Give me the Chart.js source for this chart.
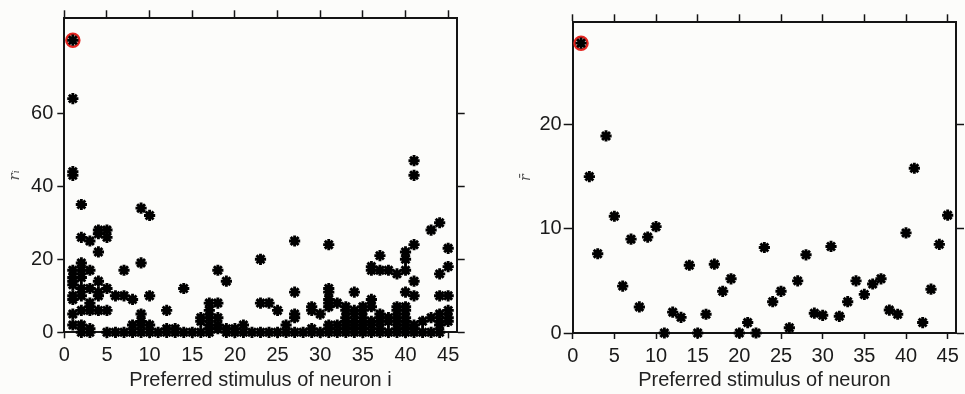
<!DOCTYPE html>
<html>
<head>
<meta charset="utf-8">
<script src="https://cdn.jsdelivr.net/npm/chart.js@4.4.1/dist/chart.umd.min.js"></script>
<style>
html,body{margin:0;padding:0;background:#fcfcfa;}
#wrap{position:relative;width:965px;height:394px;overflow:hidden;background:#fcfcfa;}
canvas{position:absolute;top:0;}
#c1{left:0;}
#c2{left:480px;}
</style>
</head>
<body>
<div id="wrap">
<canvas id="c1" width="480" height="394"></canvas>
<canvas id="c2" width="485" height="394"></canvas>
</div>
<script>
// ---- data ----
const stimuli = [1,2,3,4,5,6,7,8,9,10,11,12,13,14,15,16,17,18,19,20,21,22,23,24,25,26,27,28,29,30,31,32,33,34,35,36,37,38,39,40,41,42,43,44,45];

// single-neuron responses r_i, grouped by preferred stimulus (same order as stimuli)
const neuronRates = [
  [80,64,44,43,17,15,14,13,10,9,5,2],
  [35,26,19,17,15,12,10,6,2,0],
  [25,17,12,8,7,6,1,0],
  [28,27,22,14,11,10,6],
  [28,26,12,6,0],
  [10,0],
  [17,10,0],
  [9,2,0],
  [34,19,5,3,2,0],
  [32,10,2,0],
  [0],
  [6,1,0],
  [1,0],
  [12,0],
  [0],
  [4,3,0],
  [8,6,4,2,1,0],
  [17,8,4,2,1],
  [14,1,0],
  [1,0],
  [2,0],
  [0],
  [20,8,0],
  [8,0],
  [6,0],
  [2,0],
  [25,11,5,4,0],
  [0],
  [7,6,1,0],
  [5,0],
  [24,12,11,9,8,7,2,1,0],
  [8,2,0],
  [7,6,4,3,2,1,0],
  [11,6,5,3,2,1,0],
  [7,6,4,3,2,1,0],
  [18,17,9,7,3,2,0],
  [21,17,5,4,3,1,0],
  [17,4,3,0],
  [16,7,6,4,3,1,0],
  [22,20,17,11,7,6,4,3,2,1,0],
  [47,43,24,14,10,2,1,0],
  [3,0],
  [28,4,0],
  [30,16,10,5,3,2,0],
  [23,18,10,6,4,3]
];

// mean response r-bar per preferred stimulus
const meanRates = [27.8,15.0,7.6,18.9,11.2,4.5,9.0,2.5,9.2,10.2,0,2.0,1.5,6.5,0,1.8,6.6,4.0,5.2,0,1.0,0,8.2,3.0,4.0,0.5,5.0,7.5,1.9,1.7,8.3,1.6,3.0,5.0,3.7,4.7,5.2,2.2,1.8,9.6,15.8,1.0,4.2,8.5,11.3];

const highlightStimulus = 1;
const xTicks = [0,5,10,15,20,25,30,35,40,45];
const leftYTicks = [0,20,40,60];
const rightYTicks = [0,10,20];
const leftXTitle = 'Preferred stimulus of neuron i';
const rightXTitle = 'Preferred stimulus of neuron';
const leftYTitle = 'r\u1D62';
const rightYTitle = 'r\u0304';

// ---- build points ----
const leftPoints = [];
neuronRates.forEach((vals, i) => vals.forEach(v => leftPoints.push({x: stimuli[i], y: v})));
const rightPoints = meanRates.map((v, i) => ({x: stimuli[i], y: v}));
const hIdx = stimuli.indexOf(highlightStimulus);
const leftHighlight = [{x: highlightStimulus, y: Math.max(...neuronRates[hIdx])}];
const rightHighlight = [{x: highlightStimulus, y: meanRates[hIdx]}];

const INK = '#141414';
const tickFont = {family: "'Liberation Sans', Arial, sans-serif", size: 20};

function fixed(size) {
  return function(scale) {
    if (scale.isHorizontal()) scale.height = size; else scale.width = size;
  };
}
function setTicks(arr) {
  return function(scale) { scale.ticks = arr.map(v => ({value: v})); };
}

function makeChart(id, pts, hl, yMax, yTicks, dims, xTitle, yTitle) {
  const axisBase = (min, max, ticks, size, showLabels, tickLen, pad) => ({
    type: 'linear', min: min, max: max,
    afterBuildTicks: setTicks(ticks),
    afterFit: fixed(size),
    border: {display: true, color: INK, width: 2},
    grid: {display: true, drawOnChartArea: false, drawTicks: true, tickLength: tickLen, color: INK, tickWidth: 1.5},
    ticks: {display: showLabels, color: '#1a1a1a', font: tickFont, padding: pad, maxRotation: 0}
  });
  const x = axisBase(0, 46, xTicks, dims.xH, true, 6, 5);
  x.position = 'bottom';
  x.title = {display: true, text: xTitle, color: '#222', font: {family: "'Liberation Sans', Arial, sans-serif", size: 20}, padding: {top: 0, bottom: 2}};
  const x2 = axisBase(0, 46, xTicks, dims.x2H, false, 8, 0);
  x2.position = 'top';
  const y = axisBase(0, yMax, yTicks, dims.yW, true, dims.yTick, dims.yPad);
  y.position = 'left';
  y.title = {display: true, text: yTitle, color: '#555', font: {family: "'DejaVu Serif', 'Liberation Serif', serif", size: dims.yTitleSize, style: 'italic'}, padding: {top: dims.yTitlePad, bottom: 0}};
  const y2 = axisBase(0, yMax, yTicks, dims.y2W, false, 8, 0);
  y2.position = 'right';

  return new Chart(document.getElementById(id), {
    type: 'scatter',
    data: {
      datasets: [
        {data: pts, xAxisID: 'x', yAxisID: 'y', pointStyle: 'star', pointRadius: 5.6, pointBorderWidth: 2.9,
         borderColor: '#000', backgroundColor: '#000', pointHoverRadius: 5.6, clip: false, order: 0},
        {data: hl, xAxisID: 'x', yAxisID: 'y', pointStyle: 'circle', pointRadius: 6.5, pointBorderWidth: 2.5,
         borderColor: '#e3241f', backgroundColor: 'rgba(0,0,0,0)', clip: false, order: 1}
      ]
    },
    options: {
      responsive: false, animation: false, events: [],
      layout: {padding: 0},
      plugins: {legend: {display: false}, tooltip: {enabled: false}},
      scales: {x: x, x2: x2, y: y, y2: y2}
    }
  });
}

makeChart('c1', leftPoints, leftHighlight, 86, leftYTicks,
  {yW: 64.3, x2H: 18.3, y2W: 23.3, xH: 61.7, yTick: 7, yPad: 4, yTitleSize: 15, yTitlePad: 6}, leftXTitle, leftYTitle);
makeChart('c2', rightPoints, rightHighlight, 29.8, rightYTicks,
  {yW: 92.7, x2H: 22.3, y2W: 4.3, xH: 61, yTick: 9, yPad: 2, yTitleSize: 14, yTitlePad: 38}, rightXTitle, rightYTitle);
</script>
</body>
</html>
